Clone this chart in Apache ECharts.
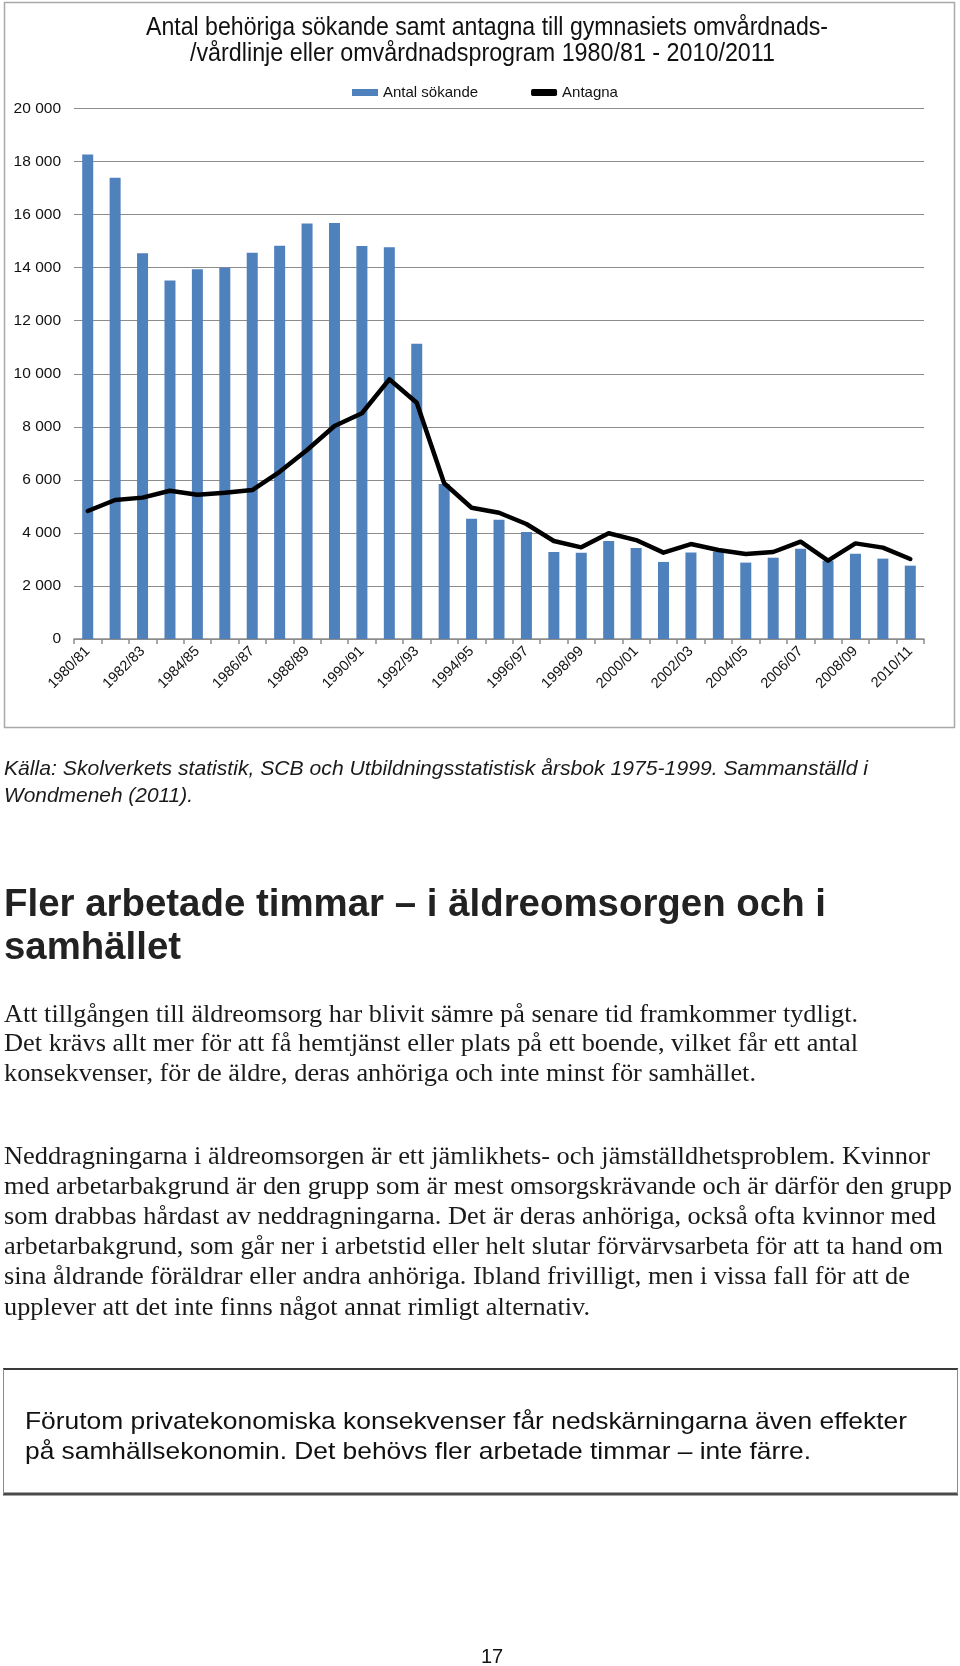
<!DOCTYPE html>
<html>
<head>
<meta charset="utf-8">
<script src="https://cdn.jsdelivr.net/npm/echarts@6/dist/echarts.min.js"></script>
<style>
html,body{margin:0;padding:0;background:#fff;}
#main{width:960px;height:1666px;}
</style>
</head>
<body>
<div id="main"></div>
<script>
// ---- Data ----
const categories = ['1980/81','1981/82','1982/83','1983/84','1984/85','1985/86','1986/87','1987/88','1988/89','1989/90',
  '1990/91','1991/92','1992/93','1993/94','1994/95','1995/96','1996/97','1997/98','1998/99','1999/00',
  '2000/01','2001/02','2002/03','2003/04','2004/05','2005/06','2006/07','2007/08','2008/09','2009/10','2010/11'];
const sokande = [18270,17390,14540,13520,13940,14000,14565,14830,15660,15680,
  14820,14770,11135,5845,4530,4500,4035,3280,3255,3695,
  3430,2905,3265,3300,2880,3065,3405,2950,3215,3030,2765];
const antagna = [4825,5240,5330,5590,5440,5515,5617,6305,7125,8030,
  8510,9790,8910,5870,4950,4760,4335,3695,3455,3985,
  3730,3255,3580,3355,3205,3280,3670,2955,3605,3445,3015];
const seriesNames = ['Antal sökande','Antagna'];
const titleLines = ['Antal behöriga sökande samt antagna till gymnasiets omvårdnads-',
  '/vårdlinje eller omvårdnadsprogram 1980/81 - 2010/2011'];
const captionLines = ['Källa: Skolverkets statistik, SCB och Utbildningsstatistisk årsbok 1975-1999. Sammanställd i',
  'Wondmeneh (2011).'];
const headingLines = ['Fler arbetade timmar – i äldreomsorgen och i','samhället'];
const para1 = ['Att tillgången till äldreomsorg har blivit sämre på senare tid framkommer tydligt.',
  'Det krävs allt mer för att få hemtjänst eller plats på ett boende, vilket får ett antal',
  'konsekvenser, för de äldre, deras anhöriga och inte minst för samhället.'];
const para2 = ['Neddragningarna i äldreomsorgen är ett jämlikhets- och jämställdhetsproblem. Kvinnor',
  'med arbetarbakgrund är den grupp som är mest omsorgskrävande och är därför den grupp',
  'som drabbas hårdast av neddragningarna. Det är deras anhöriga, också ofta kvinnor med',
  'arbetarbakgrund, som går ner i arbetstid eller helt slutar förvärvsarbeta för att ta hand om',
  'sina åldrande föräldrar eller andra anhöriga. Ibland frivilligt, men i vissa fall för att de',
  'upplever att det inte finns något annat rimligt alternativ.'];
const boxLines = ['Förutom privatekonomiska konsekvenser får nedskärningarna även effekter',
  'på samhällsekonomin. Det behövs fler arbetade timmar – inte färre.'];
const pageNumber = '17';

// ---- Text helpers ----
const cv = document.createElement('canvas').getContext('2d');
function measure(text, font){ cv.font = font; return cv.measureText(text).width; }
function fitText(text, left, cy, size, family, targetW, opts){
  opts = opts || {};
  const weight = opts.weight || 'normal';
  const style = opts.style || 'normal';
  const font = style + ' ' + weight + ' ' + size + 'px ' + family;
  let s = 1;
  if (targetW) s = targetW / measure(text, font);
  return {
    type:'text', x:left, y:cy, scaleX:s, silent:true, z:10,
    style:{ text:text, x:0, y:0, font:font, fill:opts.color || '#111',
      align:'left', verticalAlign:'middle', textAlign:'left', textVerticalAlign:'middle' }
  };
}
const SANS = '"Liberation Sans", Arial, sans-serif';
const SERIF = '"Liberation Serif", "Times New Roman", serif';

const graphics = [];
// chart frame
graphics.push({type:'rect', silent:true, shape:{x:4.5,y:2.5,width:950,height:725},
  style:{fill:'none', stroke:'#a9a9a9', lineWidth:1.5}, z:0});
// title
graphics.push(fitText(titleLines[0], 146, 28, 26, SANS, 682, {color:'#111'}));
graphics.push(fitText(titleLines[1], 190, 54, 26, SANS, 585, {color:'#111'}));
// caption
graphics.push(fitText(captionLines[0], 4, 769, 21, SANS, 864, {style:'italic', color:'#1a1a1a'}));
graphics.push(fitText(captionLines[1], 4, 796, 21, SANS, 189, {style:'italic', color:'#1a1a1a'}));
// heading
graphics.push(fitText(headingLines[0], 4, 906, 38, SANS, 822, {weight:'bold', color:'#222'}));
graphics.push(fitText(headingLines[1], 4, 949, 38, SANS, 177, {weight:'bold', color:'#222'}));
// paragraph 1
const p1W = [854, 854, 752];
para1.forEach((t,i)=>graphics.push(fitText(t, 4, 1015 + i*29.8, 25, SERIF, p1W[i], {color:'#1a1a1a'})));
const p2W = [926, 948, 932, 939, 906, 586];
para2.forEach((t,i)=>graphics.push(fitText(t, 4, 1157.5 + i*30.1, 25, SERIF, p2W[i], {color:'#1a1a1a'})));
// box
graphics.push({type:'line', silent:true, shape:{x1:3,y1:1369,x2:958,y2:1369}, style:{stroke:'#3a3a3a', lineWidth:2}});
graphics.push({type:'line', silent:true, shape:{x1:3,y1:1494,x2:958,y2:1494}, style:{stroke:'#4a4a4a', lineWidth:3}});
graphics.push({type:'line', silent:true, shape:{x1:3.5,y1:1369,x2:3.5,y2:1494}, style:{stroke:'#8a8a8a', lineWidth:1}});
graphics.push({type:'line', silent:true, shape:{x1:957.5,y1:1369,x2:957.5,y2:1494}, style:{stroke:'#8a8a8a', lineWidth:1}});
graphics.push(fitText(boxLines[0], 25, 1422, 24, SANS, 882, {color:'#111'}));
graphics.push(fitText(boxLines[1], 25, 1452, 24, SANS, 786, {color:'#111'}));
// page number
graphics.push({type:'text', x:492, y:1657, silent:true,
  style:{text:pageNumber, font:'normal 20px ' + SANS, fill:'#111', align:'center', verticalAlign:'middle', textAlign:'center', textVerticalAlign:'middle'}});

const fmt = v => String(v).replace(/\B(?=(\d{3})+(?!\d))/g, ' ');

const chart = echarts.init(document.getElementById('main'), null, {renderer:'canvas'});
chart.setOption({
  backgroundColor:'#ffffff',
  animation:false,
  textStyle:{fontFamily:SANS},
  legend:{
    left:347, top:80, itemWidth:26, itemHeight:7, itemGap:53,
    textStyle:{fontSize:15, color:'#111', fontFamily:SANS},
    data:[{name:seriesNames[0], icon:'rect'}, {name:seriesNames[1], icon:'roundRect', itemStyle:{color:'#000'}}]
  },
  grid:{left:74, right:36, top:108.5, bottom:1027, containLabel:false},
  xAxis:{
    type:'category', data:categories, boundaryGap:true,
    axisLine:{show:true, lineStyle:{color:'#8c8c8c', width:1.5}},
    axisTick:{show:true, interval:0, length:5, lineStyle:{color:'#8c8c8c', width:1.5}},
    axisLabel:{interval:1, rotate:45, fontSize:14.5, color:'#111', margin:10, fontFamily:SANS}
  },
  yAxis:{
    type:'value', min:0, max:20000, interval:2000,
    axisLine:{show:false}, axisTick:{show:false},
    splitLine:{lineStyle:{color:'#8c8c8c', width:1.2}},
    axisLabel:{formatter:fmt, fontSize:15.5, color:'#111', margin:13, fontFamily:SANS}
  },
  series:[
    {name:seriesNames[0], type:'bar', data:sokande, barWidth:11, itemStyle:{color:'#4f81bd'}, z:2},
    {name:seriesNames[1], type:'line', data:antagna, symbol:'none', showSymbol:false, smooth:false,
      lineStyle:{color:'#000', width:4.5, cap:'round', join:'round'}, itemStyle:{color:'#000'}, z:3}
  ],
  graphic:{elements:graphics}
});
</script>
</body>
</html>
